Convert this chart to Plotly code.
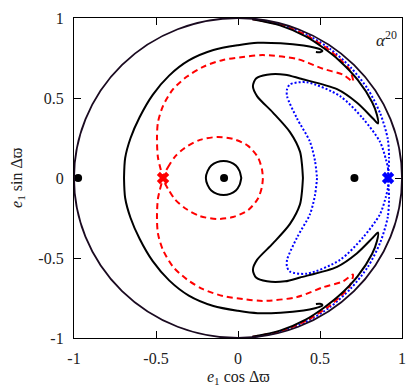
import plotly.graph_objects as go

E_MAX = 1.0

# upper halves of the level curves (lower half = mirror image)
c_x = [-0.695, -0.688, -0.655, -0.6, -0.52, -0.42, -0.3, -0.15, 0.0, 0.12, 0.26, 0.4, 0.47, 0.505, 0.515, 0.5, 0.475]
c_y = [0.0, 0.125, 0.25, 0.38, 0.52, 0.64, 0.735, 0.8, 0.83, 0.845, 0.842, 0.828, 0.814, 0.803, 0.794, 0.786, 0.787]

cres_x = [0.396, 0.39, 0.378, 0.317, 0.213, 0.116, 0.091, 0.11, 0.177, 0.287, 0.378, 0.604, 0.726, 0.823, 0.854,
          0.847, 0.818, 0.73, 0.617, 0.526, 0.413, 0.256, 0.087]
cres_y = [0.0, 0.085, 0.165, 0.287, 0.409, 0.512, 0.573, 0.622, 0.646, 0.646, 0.622, 0.555, 0.47, 0.372, 0.341,
          0.395, 0.473, 0.613, 0.735, 0.809, 0.885, 0.954, 0.992]

small_x = [-0.196, -0.185, -0.163, -0.128, -0.088, -0.048, -0.013, 0.009, 0.02]
small_y = [0.0, 0.045, 0.078, 0.099, 0.106, 0.099, 0.078, 0.045, 0.0]

red_in_x = [-0.457, -0.427, -0.384, -0.323, -0.232, -0.128, -0.03, 0.061, 0.122, 0.146, 0.152]
red_in_y = [0.0, 0.067, 0.134, 0.189, 0.238, 0.256, 0.244, 0.201, 0.128, 0.055, 0.0]

red_out_x = [-0.457, -0.488, -0.494, -0.488, -0.457, -0.396, -0.311, -0.213, -0.091, 0.03, 0.152, 0.36, 0.518, 0.64, 0.701,
             0.679, 0.622, 0.559, 0.416, 0.257, 0.087]
red_out_y = [0.0, 0.128, 0.25, 0.348, 0.451, 0.555, 0.634, 0.695, 0.738, 0.756, 0.768, 0.744, 0.683, 0.646, 0.604,
             0.679, 0.741, 0.798, 0.892, 0.958, 0.993]

blue_in_x = [0.915, 0.915, 0.902, 0.866, 0.762, 0.622, 0.421, 0.317, 0.299, 0.299, 0.36, 0.439, 0.47, 0.482]
blue_in_y = [0.0, 0.055, 0.116, 0.226, 0.372, 0.512, 0.598, 0.585, 0.555, 0.512, 0.372, 0.226, 0.104, 0.0]

blue_out_x = [0.915, 0.921, 0.913, 0.867, 0.792, 0.689, 0.564, 0.418, 0.258, 0.087]
blue_out_y = [0.0, 0.129, 0.245, 0.404, 0.555, 0.689, 0.805, 0.897, 0.961, 0.994]

dots_x = [-0.975, -0.085, 0.71]
dots_y = [0.0, 0.0, 0.0]
red_sad = (-0.457, 0.0)
blue_sad = (0.915, 0.0)

ticks = [-1, -0.5, 0, 0.5, 1]
tick_text = ['-1', '-0.5', '0', '0.5', '1']


def full(xs, ys):
    # lower half (reversed, mirrored) followed by upper half
    return xs[::-1] + xs, [-v for v in ys[::-1]] + ys


def closed(xs, ys):
    # upper half then the mirrored lower half back to the start
    return xs + xs[::-1], ys + [-v for v in ys[::-1]]


black = dict(color='black', width=2, smoothing=0.8)
red = dict(color='red', width=2, dash='6px,4px', smoothing=0.8)
blue = dict(color='blue', width=2, dash='2px,2px', smoothing=0.8)

fig = go.Figure()

for xs, ys, ln in [
    (blue_out_x, blue_out_y, blue),
    (red_out_x, red_out_y, red),
]:
    X, Y = full(xs, ys)
    fig.add_trace(go.Scatter(x=X, y=Y, mode='lines', line=ln, line_shape='spline'))

for xs, ys, ln in [
    (red_in_x, red_in_y, red),
    (blue_in_x, blue_in_y, blue),
    (small_x, small_y, black),
]:
    X, Y = closed(xs, ys)
    fig.add_trace(go.Scatter(x=X, y=Y, mode='lines', line=ln, line_shape='spline'))

for xs, ys in [(c_x, c_y), (cres_x, cres_y)]:
    X, Y = full(xs, ys)
    fig.add_trace(go.Scatter(x=X, y=Y, mode='lines', line=black, line_shape='spline'))

fig.add_shape(type='circle', xref='x', yref='y', x0=-E_MAX, y0=-E_MAX, x1=E_MAX, y1=E_MAX,
              line=dict(color='#1a0a20', width=1.8))

fig.add_trace(go.Scatter(x=dots_x, y=dots_y, mode='markers',
                         marker=dict(color='black', size=8)))
fig.add_trace(go.Scatter(x=[red_sad[0]], y=[red_sad[1]], mode='markers',
                         marker=dict(color='red', size=11, symbol='x')))
fig.add_trace(go.Scatter(x=[blue_sad[0]], y=[blue_sad[1]], mode='markers',
                         marker=dict(color='blue', size=11, symbol='x')))

axis = dict(range=[-1, 1], tickvals=ticks, ticktext=tick_text, ticks='inside', ticklen=7,
            tickcolor='black', showline=True, linecolor='black', linewidth=1.3, mirror='ticks',
            showgrid=False, zeroline=False, tickfont=dict(size=16, color='#222'),
            ticklabelstandoff=6, ticklabeloverflow='allow')

# the page body has an 8px margin, so the figure is a little smaller than the window
fig.update_layout(
    width=407, height=384,
    margin=dict(l=66, r=13, t=2, b=54),
    plot_bgcolor='white', paper_bgcolor='white',
    showlegend=False,
    font=dict(family='Liberation Serif', color='black'),
    xaxis=axis,
    yaxis=axis,
    annotations=[
        dict(text='<i>e</i><sub>1</sub> cos Δϖ', xref='paper', yref='paper', x=0.5, y=-0.122,
             showarrow=False, font=dict(size=16, color='#222'), yanchor='middle'),
        dict(text='<i>e</i><sub>1</sub> sin Δϖ', xref='paper', yref='paper', x=-0.174, y=0.5,
             showarrow=False, font=dict(size=16, color='#222'), textangle=-90,
             xanchor='center', yanchor='middle'),
        dict(text='<i>α</i><sup>20</sup>', xref='paper', yref='paper', x=0.99, y=0.975,
             xanchor='right', yanchor='top', showarrow=False, font=dict(size=17, color='#222')),
    ],
)

fig.write_html('out.html')
